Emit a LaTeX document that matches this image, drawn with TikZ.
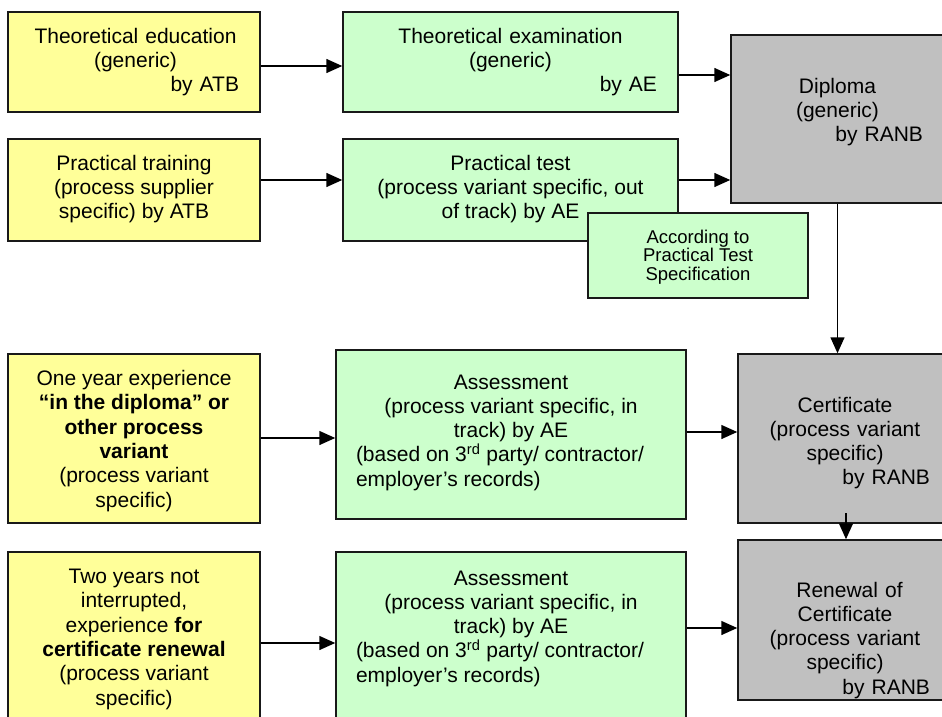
\documentclass[tikz,border=0pt]{standalone}
\usepackage{fontspec}
\setmainfont{Liberation Sans}
\usetikzlibrary{arrows.meta}
\definecolor{ybox}{HTML}{FFFF99}
\definecolor{gbox}{HTML}{CCFFCC}
\definecolor{grbox}{HTML}{C0C0C0}
\tikzset{
  box/.style={draw=black!90, line width=1.5pt, inner sep=0pt, rectangle},
  ybx/.style={box, fill=ybox},
  gbx/.style={box, fill=gbox},
  grbx/.style={box, fill=grbox},
  txt/.style={inner sep=0pt, anchor=north, font=\fontsize{21pt}{24.2pt}\selectfont},
  arr/.style={line width=1.5pt, -{Triangle[length=16pt,width=14pt]}}
}
\newcommand{\fs}{\rule{0pt}{17pt}}
\begin{document}
\begin{tikzpicture}[x=1pt,y=-1pt]
\useasboundingbox (0,0) rectangle (942,717);
\clip (0,0) rectangle (942,717);
% boxes
\node[ybx, minimum width=252pt, minimum height=100pt] (y1) at (134,62) {};
\node[ybx, minimum width=252pt, minimum height=102pt] (y2) at (134,190) {};
\node[ybx, minimum width=252pt, minimum height=169pt] (y3) at (134,438.5) {};
\node[ybx, minimum width=252pt, minimum height=173pt] (y4) at (134,638.5) {};
\node[gbx, minimum width=335pt, minimum height=100pt] (g1) at (510.5,62) {};
\node[gbx, minimum width=335pt, minimum height=102pt] (g2) at (510.5,190) {};
\node[gbx, minimum width=220pt, minimum height=85pt] (acc) at (698,255.5) {};
\node[gbx, minimum width=350pt, minimum height=169pt] (a1) at (511,434.5) {};
\node[gbx, minimum width=350pt, minimum height=173pt] (a2) at (511,638.5) {};
\node[grbx, minimum width=213pt, minimum height=168pt] (dip) at (837.5,119) {};
\node[grbx, minimum width=206pt, minimum height=169pt] (cert) at (841,438.5) {};
\node[grbx, minimum width=206pt, minimum height=160pt] (ren) at (841,620) {};
% texts
\node[txt, text width=207pt, align=center] (ty1) at (135.5,26) {\fs Theoretical education\\ (generic)\\ \makebox[207pt][r]{by ATB}};
\node[txt, align=center] (ty2) at (134,153) {\fs Practical training\\ (process supplier\\ specific) by ATB};
\node[txt, align=center, font=\fontsize{21pt}{24.4pt}\selectfont] (ty3) at (134,368) {\fs One year experience\\ \textbf{“in the diploma” or}\\ \textbf{other process}\\ \textbf{variant}\\ (process variant\\ specific)};
\node[txt, align=center, font=\fontsize{21pt}{24.4pt}\selectfont] (ty4) at (134,566) {\fs Two years not\\ interrupted,\\ experience \textbf{for}\\ \textbf{certificate renewal}\\ (process variant\\ specific)};
\node[txt, text width=293pt, align=center] (tg1) at (510.5,26) {\fs Theoretical examination\\ (generic)\\ \makebox[293pt][r]{by AE}};
\node[txt, align=center] (tg2) at (510.5,153) {\fs Practical test\\ (process variant specific, out\\ of track) by AE};
\node[txt, align=center, font=\fontsize{18.5pt}{18.7pt}\selectfont] (tacc) at (698,229) {\rule{0pt}{14pt}According to\\ Practical Test\\ Specification};
\node[txt] (ta1) at (511,372) {\begin{minipage}{310pt}\centering\fs Assessment\\ (process variant specific, in\\ track) by AE\par\raggedright (based on 3\textsuperscript{rd} party/ contractor/\\ employer’s records)\end{minipage}};
\node[txt] (ta2) at (511,568) {\begin{minipage}{310pt}\centering\fs Assessment\\ (process variant specific, in\\ track) by AE\par\raggedright (based on 3\textsuperscript{rd} party/ contractor/\\ employer’s records)\end{minipage}};
\node[txt, text width=171pt, align=center] (tdip) at (837.5,76) {\fs Diploma\\ (generic)\\ \makebox[171pt][r]{by RANB}};
\node[txt, text width=170pt, align=center] (tcert) at (845,395) {\fs Certificate\\ (process variant\\ specific)\\ \makebox[170pt][r]{by RANB}};
\node[txt, text width=170pt, align=center] (tren) at (845,580) {\fs \hspace*{9pt}Renewal of\\ Certificate\\ (process variant\\ specific)\\ \makebox[170pt][r]{by RANB}};
% connectors
\draw[arr] (y1.east |- 0,66) -- (g1.west |- 0,66);
\draw[arr] (g1.east |- 0,75) -- (dip.west |- 0,75);
\draw[arr] (y2.east |- 0,180) -- (g2.west |- 0,180);
\draw[arr] (g2.east |- 0,180) -- (dip.west |- 0,180);
\draw[arr] (dip.south) -- (dip.south |- cert.north);
\draw[arr] (y3.east |- 0,438) -- (a1.west |- 0,438);
\draw[arr] (a1.east |- 0,432) -- (cert.west |- 0,432);
\coordinate (cr) at (846,513);
\draw[arr] (cr) -- (cr |- ren.north);
\draw[arr] (y4.east |- 0,643) -- (a2.west |- 0,643);
\draw[arr] (a2.east |- 0,628) -- (ren.west |- 0,628);
\end{tikzpicture}
\end{document}
